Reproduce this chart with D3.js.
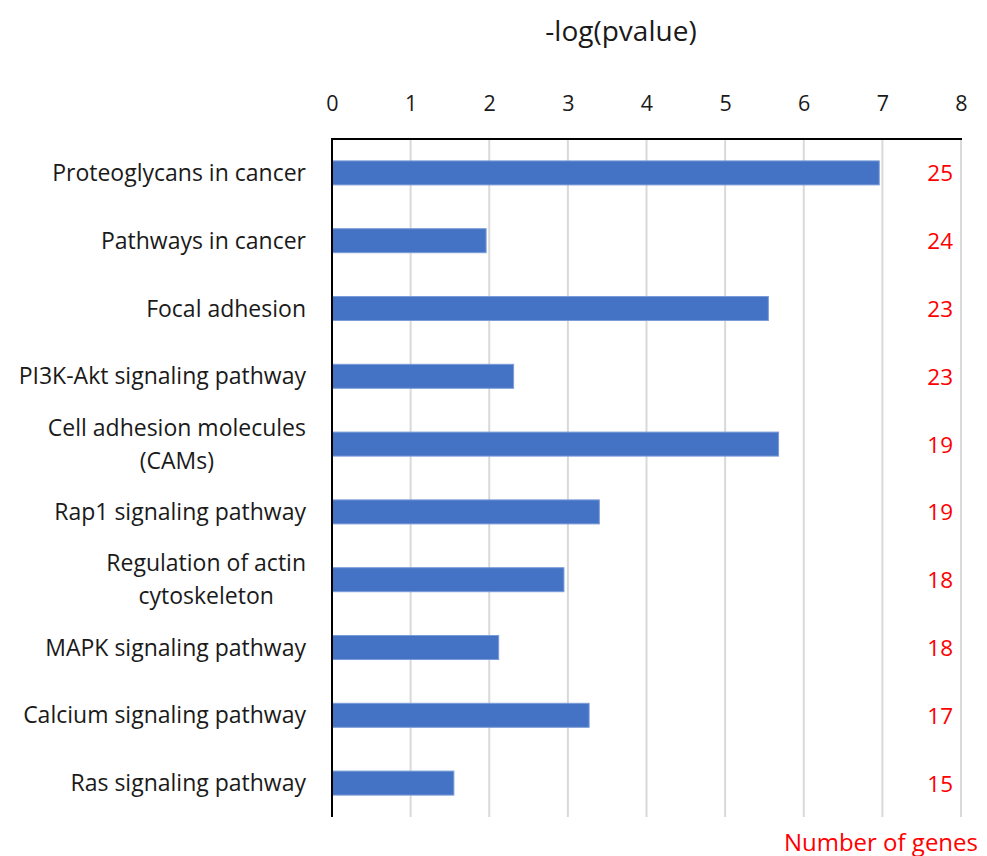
<!DOCTYPE html>
<html>
<head>
<meta charset="utf-8">
<script src="https://cdn.jsdelivr.net/npm/d3@7"></script>
<style>
  html, body { margin: 0; padding: 0; background: #ffffff; }
  svg { display: block; font-family: "Open Sans", Lato, sans-serif; }
</style>
</head>
<body>
<svg id="chart" width="987" height="856"></svg>
<script>
// KEGG pathway enrichment: -log(pvalue) per pathway and number of genes
const pathways = [
  ["Proteoglycans in cancer"],
  ["Pathways in cancer"],
  ["Focal adhesion"],
  ["PI3K-Akt signaling pathway"],
  ["Cell adhesion molecules", "(CAMs)"],
  ["Rap1 signaling pathway"],
  ["Regulation of actin", "cytoskeleton"],
  ["MAPK signaling pathway"],
  ["Calcium signaling pathway"],
  ["Ras signaling pathway"]
];
const negLogP = [6.96, 1.96, 5.55, 2.31, 5.68, 3.40, 2.95, 2.12, 3.27, 1.55];
const geneCounts = [25, 24, 23, 23, 19, 19, 18, 18, 17, 15];
const xTicks = [0, 1, 2, 3, 4, 5, 6, 7, 8];

const FONT = "'Open Sans', Lato, sans-serif";
const svg = d3.select("#chart");
const margin = { top: 139, right: 26, bottom: 39, left: 332 };
const W = 987, H = 856;
const innerW = W - margin.left - margin.right;
const innerH = H - margin.top - margin.bottom;

const keys = pathways.map((d, i) => i);
const x = d3.scaleLinear().domain([0, 8]).range([0, innerW]);
const y = d3.scaleBand().domain(keys).range([0, innerH]).paddingInner(0.646).paddingOuter(0.323);

const g = svg.append("g").attr("transform", `translate(${margin.left},${margin.top})`);

// vertical gridlines
g.append("g")
  .selectAll("line")
  .data(xTicks.filter(t => t > 0))
  .join("line")
  .attr("x1", d => x(d)).attr("x2", d => x(d))
  .attr("y1", 0).attr("y2", innerH)
  .attr("stroke", "#d9d9d9")
  .attr("stroke-width", 2);

// tick labels above the plot
const axis = g.append("g")
  .attr("transform", "translate(0,-28)")
  .call(d3.axisTop(x).tickValues(xTicks).tickSize(0).tickPadding(0));
axis.select(".domain").remove();
axis.selectAll("text")
  .attr("font-family", FONT)
  .attr("font-size", 21.5)
  .attr("fill", "#1a1a1a")
  .attr("dy", "0");

// bars
g.append("g")
  .selectAll("rect")
  .data(keys)
  .join("rect")
  .attr("x", x(0))
  .attr("y", i => y(i))
  .attr("width", i => x(negLogP[i]) - x(0))
  .attr("height", y.bandwidth())
  .attr("fill", "#4472c4")
  .attr("stroke", "#7b9bd8")
  .attr("stroke-width", 1);

// axis lines: top and left
g.append("line")
  .attr("x1", -1).attr("x2", innerW + 1)
  .attr("y1", 0).attr("y2", 0)
  .attr("stroke", "#000").attr("stroke-width", 2);
g.append("line")
  .attr("x1", 0).attr("x2", 0)
  .attr("y1", -1).attr("y2", innerH)
  .attr("stroke", "#000").attr("stroke-width", 2);

// category labels, right-aligned block with centred lines
const lineH = 33;
const labelRight = -26;
const labels = g.append("g")
  .selectAll("text")
  .data(keys)
  .join("text")
  .attr("font-family", FONT)
  .attr("font-size", 23)
  .attr("fill", "#1a1a1a")
  .attr("text-anchor", "middle")
  .attr("dominant-baseline", "central");
labels.each(function(i) {
  const t = d3.select(this);
  const lines = pathways[i];
  const cy = y(i) + y.bandwidth() / 2 - 1;
  const y0 = cy - (lines.length - 1) * lineH / 2;
  lines.forEach((s, k) => {
    t.append("tspan").attr("y", y0 + k * lineH).text(s);
  });
  let maxW = 0;
  t.selectAll("tspan").each(function() {
    maxW = Math.max(maxW, this.getComputedTextLength());
  });
  t.selectAll("tspan").attr("x", labelRight - maxW / 2);
});

// number of genes beside each bar
g.append("g")
  .selectAll("text")
  .data(keys)
  .join("text")
  .attr("x", x(8) - 8)
  .attr("y", i => y(i) + y.bandwidth() / 2)
  .attr("text-anchor", "end")
  .attr("dominant-baseline", "central")
  .attr("font-family", FONT)
  .attr("font-size", 22.5)
  .attr("fill", "#ff0000")
  .text(i => geneCounts[i]);

// titles
svg.append("text")
  .attr("x", 621).attr("y", 30)
  .attr("text-anchor", "middle")
  .attr("dominant-baseline", "central")
  .attr("font-family", FONT)
  .attr("font-size", 28)
  .attr("fill", "#1a1a1a")
  .text("-log(pvalue)");

svg.append("text")
  .attr("x", 978).attr("y", 841)
  .attr("text-anchor", "end")
  .attr("dominant-baseline", "central")
  .attr("font-family", FONT)
  .attr("font-size", 24)
  .attr("fill", "#ff0000")
  .text("Number of genes");
</script>
</body>
</html>
